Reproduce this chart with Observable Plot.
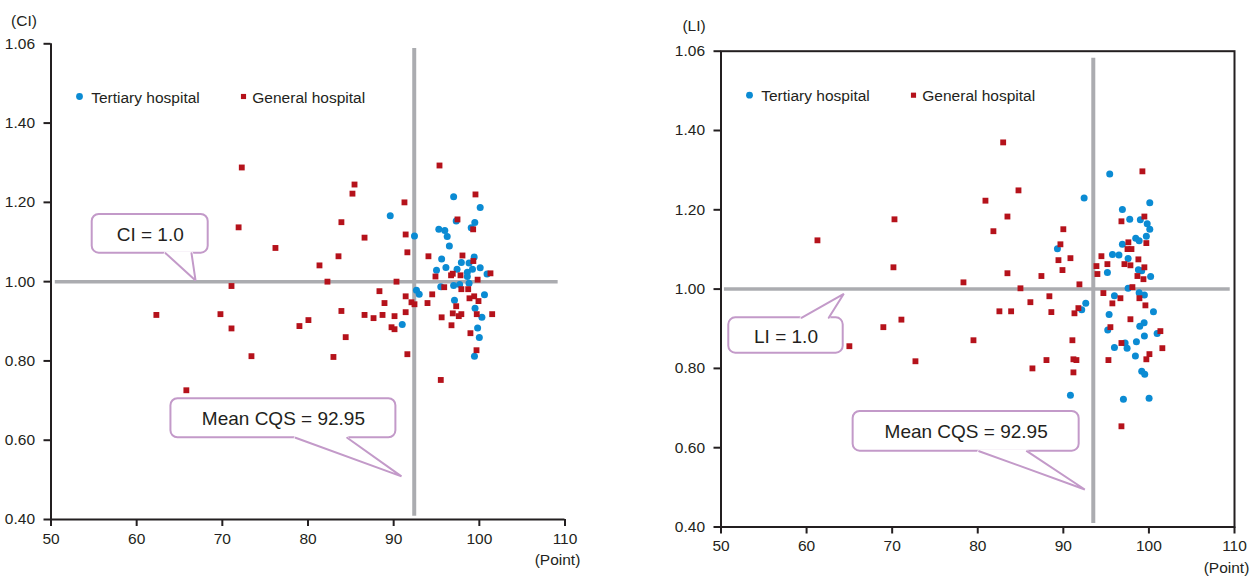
<!DOCTYPE html>
<html>
<head>
<meta charset="utf-8">
<script src="https://cdn.jsdelivr.net/npm/d3@7"></script>
<script src="https://cdn.jsdelivr.net/npm/@observablehq/plot@0.6"></script>
<style>
  body { margin: 0; background: #fff; }
  #wrap { display: flex; width: 1256px; height: 578px; overflow: hidden; }
  #wrap svg { display: block; }
</style>
</head>
<body>
<div id="wrap"></div>
<script>
// ---------- data ----------
const xTicks = [50, 60, 70, 80, 90, 100, 110];
const yTicks = [0.4, 0.6, 0.8, 1.0, 1.2, 1.4, 1.6];
const yTickLabels = ["0.40", "0.60", "0.80", "1.00", "1.20", "1.40", "1.06"];
const seriesNames = ["Tertiary hospital", "General hospital"];

// CI panel: [CQS point, CI]
const ciTertiary = [
  [97.0,1.214],[100.1,1.187],[89.6,1.166],[97.3,1.153],[99.47,1.149],[99.05,1.136],
  [92.43,1.115],[95.27,1.132],[95.97,1.129],[96.25,1.114],[96.5,1.090],[95.6,1.057],
  [97.9,1.048],[99.4,1.062],[98.8,1.047],[96.1,1.036],[95.0,1.029],[97.4,1.031],
  [99.2,1.031],[100.1,1.035],[98.6,1.024],[98.6,1.013],[98.8,0.996],[100.9,1.019],
  [97.7,0.993],[97.0,0.990],[95.5,0.987],[92.66,0.978],[92.98,0.968],[100.6,0.967],
  [97.1,0.953],[99.5,0.933],[100.3,0.910],[99.8,0.883],[100.0,0.859],[99.43,0.812],
  [91.0,0.892]
];
const ciGeneral = [
  [95.35,1.293],[85.43,1.245],[85.19,1.222],[99.55,1.220],[91.26,1.200],[83.9,1.150],
  [97.45,1.157],[99.28,1.132],[86.6,1.111],[91.4,1.119],[83.56,1.064],[91.6,1.074],
  [94.06,1.064],[98.03,1.066],[99.3,1.052],[81.34,1.041],[82.27,1.000],[90.33,1.000],
  [94.88,1.013],[96.7,1.016],[96.9,1.020],[97.8,1.016],[99.8,1.005],[101.3,1.021],
  [95.9,0.986],[97.9,0.981],[98.7,0.981],[88.34,0.976],[91.4,0.963],[94.5,0.968],
  [98.85,0.958],[99.4,0.963],[99.9,0.951],[88.93,0.946],[92.08,0.948],[92.43,0.943],
  [93.95,0.946],[97.3,0.938],[83.9,0.926],[86.6,0.916],[87.65,0.908],[88.7,0.916],
  [90.1,0.913],[91.4,0.923],[95.6,0.910],[96.9,0.920],[97.6,0.913],[97.9,0.918],
  [99.7,0.918],[101.5,0.918],[80.05,0.903],[79.0,0.888],[89.75,0.885],[90.1,0.880],
  [96.75,0.890],[84.4,0.860],[98.96,0.870],[99.67,0.827],[82.97,0.810],[91.6,0.817],
  [95.5,0.752],[72.27,1.288],[71.9,1.137],[76.2,1.085],[71.07,0.989],[62.3,0.916],
  [69.78,0.918],[71.07,0.882],[73.4,0.812],[65.8,0.726]
];

// LI panel: [CQS point, LI]
const liTertiary = [
  [95.42,1.290],[92.43,1.230],[100.1,1.218],[96.9,1.201],[97.76,1.176],[99.0,1.175],
  [99.8,1.165],[100.1,1.151],[99.7,1.133],[98.46,1.128],[98.86,1.122],[96.9,1.113],
  [89.31,1.102],[95.74,1.087],[96.5,1.086],[97.57,1.077],[98.77,1.049],[99.16,1.046],
  [95.15,1.042],[100.2,1.032],[97.57,1.002],[98.86,0.991],[99.47,0.985],[95.97,0.983],
  [92.62,0.964],[92.15,0.948],[100.53,0.943],[95.35,0.936],[99.44,0.915],[98.93,0.906],
  [95.19,0.897],[100.96,0.888],[99.47,0.882],[97.22,0.864],[98.54,0.867],[95.97,0.853],
  [97.45,0.851],[98.42,0.831],[99.16,0.793],[99.51,0.785],[90.83,0.732],[97.02,0.722],
  [100.02,0.725]
];
const liGeneral = [
  [82.97,1.370],[99.24,1.297],[84.76,1.249],[80.9,1.223],[83.47,1.183],[99.47,1.183],
  [96.79,1.171],[81.83,1.146],[90.0,1.151],[89.66,1.113],[97.6,1.118],[99.7,1.116],
  [97.5,1.101],[97.96,1.101],[89.43,1.073],[90.83,1.078],[94.45,1.083],[98.77,1.075],
  [93.87,1.058],[95.15,1.063],[97.14,1.063],[97.84,1.060],[99.47,1.055],[83.47,1.040],
  [89.9,1.048],[93.98,1.038],[87.44,1.033],[98.66,1.033],[99.36,1.025],[78.33,1.017],
  [91.88,1.012],[84.99,1.002],[98.07,1.005],[94.68,0.990],[88.37,0.982],[96.67,0.977],
  [98.89,0.977],[86.15,0.967],[95.73,0.964],[99.59,0.959],[91.76,0.952],[82.53,0.944],
  [83.9,0.944],[88.6,0.942],[91.3,0.939],[97.84,0.924],[95.5,0.904],[79.5,0.871],
  [91.06,0.871],[101.34,0.894],[96.79,0.864],[101.57,0.851],[100.06,0.836],[88.03,0.821],
  [91.18,0.823],[91.53,0.821],[95.27,0.821],[99.7,0.823],[86.39,0.800],[91.18,0.790],
  [96.79,0.654],[70.27,1.176],[61.27,1.123],[70.15,1.055],[71.08,0.923],[68.97,0.904],
  [65.0,0.856],[72.72,0.818]
];

// reference values (as drawn)
const ciRef = 1.0, liRef = 1.0;
const ciMeanLineX = 92.4, liMeanLineX = 93.5;
const meanLabel = "Mean CQS = 92.95";

// ---------- styles ----------
const ink = "#231f20";
const blue = "#0b8bd3";
const red = "#b5121b";
const gray = "#abacb0";
const purple = "#c39ac9";
const font = "'Liberation Sans', Arial, sans-serif";

function callout(c) {
  const box = [{x1: c.x1, x2: c.x2, y1: c.y1, y2: c.y2}];
  const edgeY = c.tailEdge === "bottom" ? Math.min(c.y1, c.y2) : Math.max(c.y1, c.y2);
  const base = [{x: c.b1, y: edgeY}, {x: c.b2, y: edgeY}];
  const tail = [{x: c.b1, y: edgeY}, {x: c.tx, y: c.ty}, {x: c.b2, y: edgeY}];
  return [
    Plot.rect(box, {x1: "x1", x2: "x2", y1: "y1", y2: "y2", fill: "white", stroke: purple, strokeWidth: 2, rx: 7}),
    Plot.line(base, {x: "x", y: "y", stroke: "white", strokeWidth: 3.4}),
    Plot.line(tail, {x: "x", y: "y", fill: "white", stroke: purple, strokeWidth: 2, strokeLinejoin: "miter"}),
    Plot.text([c.text], {x: (c.x1 + c.x2) / 2, y: (c.y1 + c.y2) / 2, text: d => d, fontSize: 19, fill: ink, lineAnchor: "middle", textAnchor: "middle", dy: 1})
  ];
}

function panel(p) {
  const marks = [
    // reference lines
    Plot.ruleY([p.ref], {x1: p.hLine[0], x2: p.hLine[1], stroke: gray, strokeWidth: 3.5}),
    Plot.ruleX([p.meanX], {y1: p.vLine[0], y2: p.vLine[1], stroke: gray, strokeWidth: 4}),
    ...callout(p.refCallout),
    ...callout(p.meanCallout),
    // points
    Plot.dot(p.tertiary, {x: d => d[0], y: d => d[1], r: 3.5, fill: blue, stroke: "none"}),
    Plot.dot(p.general, {x: d => d[0], y: d => d[1], symbol: "square", r: 3.3, fill: red, stroke: "none"}),
    // legend
    Plot.dot([seriesNames[0]], {frameAnchor: "top-left", dx: 28.5, dy: p.legendDy, r: 3.4, fill: blue}),
    Plot.text([seriesNames[0]], {frameAnchor: "top-left", dx: 40.2, dy: p.legendDy + 6, text: d => d, textAnchor: "start", lineAnchor: "bottom", fontSize: 15.5, fill: ink}),
    Plot.dot([seriesNames[1]], {frameAnchor: "top-left", dx: 192.5, dy: p.legendDy, symbol: "square", r: 2.9, fill: red}),
    Plot.text([seriesNames[1]], {frameAnchor: "top-left", dx: 201.3, dy: p.legendDy + 6, text: d => d, textAnchor: "start", lineAnchor: "bottom", fontSize: 15.5, fill: ink}),
    // axes
    Plot.axisY({ticks: yTicks, tickFormat: d => yTickLabels[yTicks.indexOf(d)], tickSize: 7, tickPadding: 9, strokeWidth: 2, stroke: ink, fill: ink, fontSize: 15.5, label: null}),
    Plot.axisX({ticks: xTicks, tickFormat: d => String(d), tickSize: 7, tickPadding: 6, strokeWidth: 2, stroke: ink, fill: ink, fontSize: 15.5, label: null}),
    Plot.text([p.yLabel], {frameAnchor: "top-left", dx: -27, dy: p.yLabelDy, text: d => d, textAnchor: "middle", lineAnchor: "bottom", fontSize: 15.5, fill: ink}),
    Plot.text(["(Point)"], {frameAnchor: "bottom-right", dx: p.pointDx, dy: p.pointDy, text: d => d, textAnchor: "middle", lineAnchor: "bottom", fontSize: 15.5, fill: ink})
  ];
  if (p.frame) {
    marks.push(Plot.frame({stroke: ink, strokeWidth: 2}));
  } else {
    marks.push(Plot.ruleX([50], {stroke: ink, strokeWidth: 2}));
    marks.push(Plot.ruleY([0.4], {stroke: ink, strokeWidth: 2}));
  }
  return Plot.plot({
    width: 628,
    height: 578,
    marginLeft: p.margin[3], marginRight: p.margin[1], marginTop: p.margin[0], marginBottom: p.margin[2],
    x: {domain: [50, 110], axis: null},
    y: {domain: [0.4, 1.6], axis: null},
    style: {fontFamily: font, fontSize: "15px", color: ink, background: "white", overflow: "visible"},
    marks
  });
}

const left = panel({
  tertiary: ciTertiary, general: ciGeneral, ref: ciRef, meanX: ciMeanLineX,
  yLabel: "(CI)", yLabelDy: -18, legendDy: 52.7, pointDx: -7.5, pointDy: 45,
  margin: [43.3, 63.5, 59, 50.5],
  hLine: [50.5, 109.2], vLine: [0.408, 1.588], frame: false,
  refCallout: {text: "CI = 1.0", x1: 54.81, x2: 68.35, y1: 1.0719, y2: 1.1695, tailEdge: "bottom", b1: 63.37, b2: 66.4, tx: 66.87, ty: 1.003},
  meanCallout: {text: meanLabel, x1: 64.0, x2: 90.26, y1: 0.6063, y2: 0.7047, tailEdge: "bottom", b1: 78.54, b2: 84.57, tx: 90.91, ty: 0.5087}
});
const right = panel({
  tertiary: liTertiary, general: liGeneral, ref: liRef, meanX: liMeanLineX,
  yLabel: "(LI)", yLabelDy: -20, legendDy: 44, pointDx: -8, pointDy: 46,
  margin: [50.7, 22, 51.5, 92.5],
  hLine: [50.4, 109.5], vLine: [0.409, 1.582], frame: true,
  refCallout: {text: "LI = 1.0", x1: 50.91, x2: 64.28, y1: 0.8383, y2: 0.9276, tailEdge: "top", b1: 59.4, b2: 62.59, tx: 64.35, ty: 0.9881},
  meanCallout: {text: meanLabel, x1: 65.44, x2: 91.85, y1: 0.5912, y2: 0.6913, tailEdge: "bottom", b1: 80.16, b2: 85.74, tx: 92.51, ty: 0.4946}
});
document.getElementById("wrap").append(left, right);
</script>
</body>
</html>
